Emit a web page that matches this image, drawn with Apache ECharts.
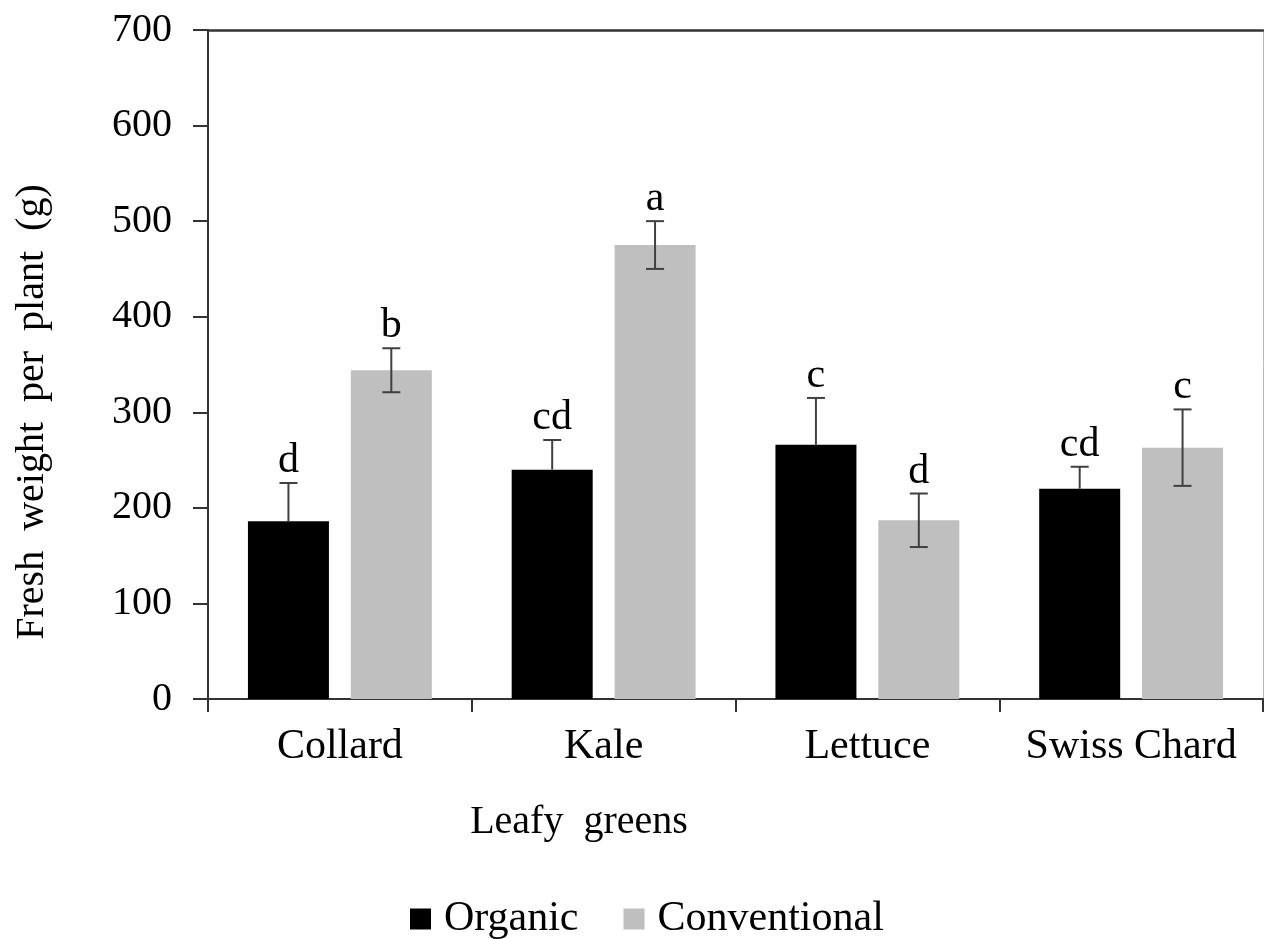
<!DOCTYPE html>
<html>
<head>
<meta charset="utf-8">
<script src="https://cdn.jsdelivr.net/npm/echarts@6/dist/echarts.min.js"></script>
<style>html,body{margin:0;padding:0;background:#fff;}#c{width:1264px;height:939px;}</style>
</head>
<body>
<div id="c"></div>
<script>
var categories = ['Collard', 'Kale', 'Lettuce', 'Swiss Chard'];
var organic = [186, 240, 266, 220];
var organicErr = [40, 31, 49, 23];
var organicLetters = ['d', 'cd', 'c', 'cd'];
var conventional = [344, 475, 187, 263];
var conventionalErr = [23, 25, 28, 40];
var conventionalLetters = ['b', 'a', 'd', 'c'];
var yTicks = [0, 100, 200, 300, 400, 500, 600, 700];

var FONT = '"Liberation Serif", "Times New Roman", serif';
var BAR_W = 81, GAP = 0.27;
var OFFSET = (BAR_W + BAR_W * GAP) / 2;

function errData(vals, errs) {
  return vals.map(function (v, i) { return [i, v, errs[i]]; });
}
function makeRender(sign, upOnly, letters) {
  return function (params, api) {
    var i = api.value(0), v = api.value(1), e = api.value(2);
    var letter = letters[params.dataIndex];
    var top = api.coord([i, v + e]);
    var mid = api.coord([i, v]);
    var bot = api.coord([i, v - e]);
    var x = top[0] + sign * OFFSET;
    var cap = 9;
    var st = { stroke: '#404040', lineWidth: 2 };
    var children = [
      { type: 'line', shape: { x1: x, y1: top[1], x2: x, y2: upOnly ? mid[1] : bot[1] }, style: st },
      { type: 'line', shape: { x1: x - cap, y1: top[1], x2: x + cap, y2: top[1] }, style: st }
    ];
    if (!upOnly) children.push({ type: 'line', shape: { x1: x - cap, y1: bot[1], x2: x + cap, y2: bot[1] }, style: st });
    children.push({ type: 'text', x: x, y: top[1] - 1, style: { text: letter, font: '42px ' + FONT, fill: '#000', align: 'center', verticalAlign: 'bottom' } });
    return { type: 'group', children: children };
  };
}

var chart = echarts.init(document.getElementById('c'));
chart.setOption({
  animation: false,
  backgroundColor: '#fff',
  grid: { left: 208, right: 1, top: 30, bottom: 240, containLabel: false },
  legend: {
    left: 405, top: 893,
    icon: 'rect', itemWidth: 21, itemHeight: 21, itemGap: 45,
    textStyle: { fontFamily: FONT, fontSize: 42, color: '#000', padding: [0, 0, 0, 8] },
    data: ['Organic', 'Conventional']
  },
  xAxis: [{
    type: 'category', data: categories, position: 'bottom',
    axisLine: { lineStyle: { color: '#333', width: 2 } },
    axisTick: { show: true, alignWithLabel: false, inside: false, length: 13, lineStyle: { color: '#333', width: 2 } },
    axisLabel: { fontFamily: FONT, fontSize: 42, color: '#000', margin: 27, interval: 0 },
    splitLine: { show: false }
  }, {
    type: 'category', data: categories, position: 'top',
    axisLine: { show: true, onZero: false, lineStyle: { color: '#333', width: 2.5 } },
    axisTick: { show: false }, axisLabel: { show: false }, splitLine: { show: false }
  }],
  yAxis: [{
    type: 'value', min: 0, max: 700, interval: 100,
    axisLine: { show: true, lineStyle: { color: '#333', width: 2 } },
    axisTick: { show: true, inside: false, length: 15, lineStyle: { color: '#333', width: 2 } },
    axisLabel: { fontFamily: FONT, fontSize: 40, color: '#000', margin: 36,
      formatter: function (v) { return yTicks.indexOf(v) >= 0 ? String(v) : ''; } },
    splitLine: { show: false }
  }, {
    type: 'value', min: 0, max: 700, interval: 100, position: 'right',
    axisLine: { show: true, onZero: false, lineStyle: { color: '#bbb', width: 1 } },
    axisTick: { show: false }, axisLabel: { show: false }, splitLine: { show: false }
  }],
  graphic: [
    { type: 'text', x: 32, y: 412, rotation: Math.PI / 2,
      style: { text: 'Fresh  weight  per  plant  (g)', font: '40px ' + FONT, fill: '#000', align: 'center', verticalAlign: 'middle' } },
    { type: 'text', x: 579, y: 822,
      style: { text: 'Leafy  greens', font: '40px ' + FONT, fill: '#000', align: 'center', verticalAlign: 'middle' } }
  ],
  series: [
    { name: 'Organic', type: 'bar', data: organic, barWidth: BAR_W, barGap: (GAP * 100) + '%', itemStyle: { color: '#000' } },
    { name: 'Conventional', type: 'bar', data: conventional, barWidth: BAR_W, barGap: (GAP * 100) + '%', itemStyle: { color: '#bfbfbf' } },
    { type: 'custom', renderItem: makeRender(-1, true, organicLetters), data: errData(organic, organicErr), z: 10, encode: { x: 0, y: 1 } },
    { type: 'custom', renderItem: makeRender(1, false, conventionalLetters), data: errData(conventional, conventionalErr), z: 10, encode: { x: 0, y: 1 } }
  ]
});
</script>
</body>
</html>
